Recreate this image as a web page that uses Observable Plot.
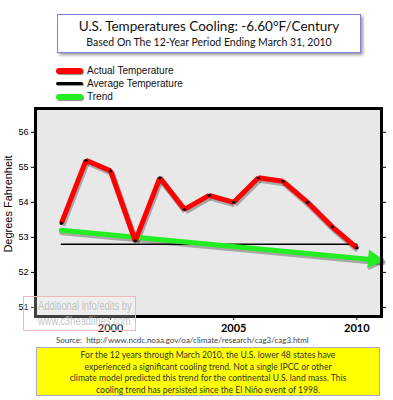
<!DOCTYPE html>
<html>
<head>
<meta charset="utf-8">
<script src="https://cdn.jsdelivr.net/npm/d3@7"></script>
<script src="https://cdn.jsdelivr.net/npm/@observablehq/plot@0.6"></script>
<style>
  html, body { margin: 0; padding: 0; background: #fff; }
  #wrap { position: relative; width: 393px; height: 400px; overflow: hidden; font-family: "Liberation Sans", Arial, sans-serif; }
  #chart { position: absolute; left: 0; top: 0; }
  .abs { position: absolute; }
  #titlebox { left: 57px; top: 14px; width: 302px; height: 37px; border: 1px solid #8080e0; box-shadow: 2px 2px 3px #999; background: #fff; font-family: Lato, "Open Sans", sans-serif; color: #111; text-align: center; }
  #title { position: absolute; left: 0; right: 0; top: 3px; font-size: 13.5px; }
  #subtitle { position: absolute; left: 0; right: 0; top: 21px; font-size: 10.5px; }
  .sw { position: absolute; left: 56px; width: 27px; border-radius: 3px; box-shadow: 1px 1px 1px rgba(0,0,0,0.45); }
  .lt { position: absolute; left: 87px; font-size: 10px; color: #111; line-height: 12px; }
  #ylab { left: 8px; top: 204px; transform: translate(-50%, -50%) rotate(-90deg); font-size: 11px; white-space: nowrap; color: #000; }
  #source { left: 56px; top: 335px; font-family: Lato, "Open Sans", sans-serif; font-size: 8px; color: #444; white-space: nowrap; }
  #note { left: 36px; top: 347px; width: 344px; height: 49px; background: #ffff00; border: 1px solid #a8a8c8; font-family: Lato, "Open Sans", sans-serif; font-size: 8.6px; line-height: 11.5px; color: #333; text-align: center; padding-top: 2px; box-sizing: border-box; }
  #wm { left: 23px; top: 296px; width: 111px; height: 33px; border: 1px solid #f0b8b8; background: rgba(255,255,255,0.25); }
  #wm div { position: absolute; left: 14px; white-space: nowrap; font-size: 12px; color: rgba(185,185,185,0.85); transform-origin: 0 0; transform: scaleX(0.78); }
</style>
</head>
<body>
<div id="wrap">
  <div id="chart"></div>
  <div id="titlebox" class="abs">
    <div id="title">U.S. Temperatures Cooling: -6.60°F/Century</div>
    <div id="subtitle">Based On The 12-Year Period Ending March 31, 2010</div>
  </div>
  <div class="sw" style="top:68px;height:6px;background:#ff0000"></div>
  <div class="lt" style="top:65px">Actual Temperature</div>
  <div class="sw" style="top:82px;height:3px;background:#000"></div>
  <div class="lt" style="top:78px">Average Temperature</div>
  <div class="sw" style="top:94px;height:6px;background:#22ee22"></div>
  <div class="lt" style="top:91px">Trend</div>
  <div id="ylab" class="abs">Degrees Fahrenheit</div>
  <div id="wm" class="abs"><div style="top:2px">Additional info/edits by</div><div style="top:17px">www.c3headlines.com</div></div>
  <div id="source" class="abs">Source:&nbsp; http://www.ncdc.noaa.gov/oa/climate/research/cag3/cag3.html</div>
  <div id="note" class="abs">For the 12 years through March 2010, the U.S. lower 48 states have<br>experienced a significant cooling trend. Not a single IPCC or other<br>climate model predicted this trend for the continental U.S. land mass. This<br>cooling trend has persisted since the El Niño event of 1998.</div>
</div>
<script>
// Data
const years = [1998, 1999, 2000, 2001, 2002, 2003, 2004, 2005, 2006, 2007, 2008, 2009, 2010];
const temps = [53.4, 55.2, 54.9, 52.9, 54.7, 53.8, 54.2, 54.0, 54.7, 54.6, 54.0, 53.3, 52.7];
const avgYears = [1998, 2010];
const avgValue = 52.8;
const trendYears = [1998, 2011];
const trendValues = [53.2, 52.34];
const xTicks = [2000, 2005, 2010];
const yTicks = [51, 52, 53, 54, 55, 56];

const xDomain = [1996.95, 2011.0];
const yDomain = [50.74, 56.68];
const W = 393, H = 400, mL = 35, mR = 12, mT = 108, mB = 84;

const actual = years.map((x, i) => ({x, y: temps[i]}));
const segs = actual.slice(1).map((d, i) => ({x1: actual[i].x, y1: actual[i].y, x2: d.x, y2: d.y}));
const avg = avgYears.map(x => ({x, y: avgValue}));
const trend = trendYears.map((x, i) => ({x, y: trendValues[i]}));

// arrowhead orientation from trend slope in pixels
const pxPerX = (W - mL - mR) / (xDomain[1] - xDomain[0]);
const pxPerY = (H - mT - mB) / (yDomain[1] - yDomain[0]);
const ang = Math.atan2((trendValues[0] - trendValues[1]) * pxPerY, (trendYears[1] - trendYears[0]) * pxPerX) * 180 / Math.PI;
const shadow = "rgba(0,0,0,0.28)";

const chart = Plot.plot({
  width: W, height: H,
  marginLeft: mL, marginRight: mR, marginTop: mT, marginBottom: mB,
  style: {fontFamily: "Liberation Sans, Arial, sans-serif", background: "transparent"},
  x: {domain: xDomain},
  y: {domain: yDomain},
  marks: [
    Plot.frame({fill: "#e8e8e8", stroke: "none"}),
    Plot.axisY({ticks: yTicks, tickSize: 4, tickPadding: 3, label: null, fontSize: 9, tickFormat: d => String(d)}),
    Plot.axisY({anchor: "right", ticks: yTicks, tickSize: 4, label: null, tickFormat: () => ""}),
    Plot.axisX({ticks: xTicks, tickSize: 4, tickPadding: 4, label: null, fontSize: 11, fontWeight: "bold", fontFamily: "Lato, sans-serif", tickFormat: d => String(d)}),
    Plot.line(avg, {x: "x", y: "y", stroke: "#000", strokeWidth: 1.5}),
    // shadows
    Plot.line(trend, {x: "x", y: "y", stroke: shadow, strokeWidth: 6, dx: 1, dy: 2}),
    Plot.dot([trend[trend.length - 1]], {x: "x", y: "y", symbol: "triangle", r: 7, fill: shadow, stroke: "none", rotate: 90 + ang, dx: -7, dy: 1}),
    Plot.link(segs, {x1: "x1", y1: "y1", x2: "x2", y2: "y2", stroke: shadow, strokeWidth: 6, dx: 1, dy: 2}),
    // main marks
    Plot.line(trend, {x: "x", y: "y", stroke: "#22ee22", strokeWidth: 5}),
    Plot.dot([trend[trend.length - 1]], {x: "x", y: "y", symbol: "triangle", r: 7, fill: "#22ee22", stroke: "none", rotate: 90 + ang, dx: -8, dy: -1}),
    Plot.link(segs, {x1: "x1", y1: "y1", x2: "x2", y2: "y2", stroke: "#ff0000", strokeWidth: 5, strokeLinecap: "butt"}),
    Plot.dot(actual, {x: "x", y: "y", r: 1.6, fill: "#000", stroke: "none"}),
    Plot.frame({stroke: "#000", strokeWidth: 3})
  ]
});
document.getElementById("chart").appendChild(chart);
</script>
</body>
</html>
